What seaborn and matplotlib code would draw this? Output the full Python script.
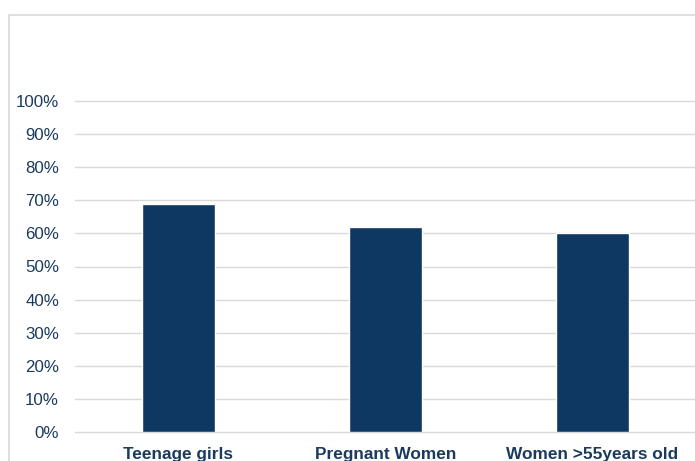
import matplotlib
matplotlib.use("Agg")
import matplotlib.pyplot as plt
import matplotlib.patches as patches
from matplotlib.ticker import PercentFormatter
import seaborn as sns
import pandas as pd

# data
groups = ["Teenage girls", "Pregnant Women", "Women >55years old"]
shares = [0.69, 0.62, 0.60]

bar_color = "#0E3862"
text_color = "#1B3A5E"
grid_color = "#D9D9D9"

sns.set_style("white")
plt.rcParams["font.family"] = ["Liberation Sans", "DejaVu Sans"]

df = pd.DataFrame({"group": groups, "share": shares})

fig = plt.figure(figsize=(6.95, 4.61), dpi=100)
W, H = 695, 461

# outer chart border (cropped on the right/bottom in the reference)
fig.patches.append(patches.Rectangle((9 / W, -0.1), 1.2, (H - 15) / H + 0.1,
                                     transform=fig.transFigure, fill=False,
                                     edgecolor=grid_color, linewidth=1.2))

ax = fig.add_axes([75 / W, (H - 432) / H, 621 / W, 331 / H])
sns.barplot(data=df, x="group", y="share", color=bar_color, width=0.357,
            saturation=1, ax=ax)

ax.set_ylim(0, 1.0)
ax.set_xlim(-0.5, 2.5)
ax.set_yticks([i / 10 for i in range(11)])
ax.yaxis.set_major_formatter(PercentFormatter(1.0, decimals=0))
ax.grid(axis="y", color=grid_color, linewidth=1)
ax.set_axisbelow(True)
for s in ax.spines.values():
    s.set_visible(False)
ax.set_xlabel("")
ax.set_ylabel("")
ax.tick_params(axis="y", length=0, pad=11.5, labelsize=12.2, labelcolor=text_color)
ax.tick_params(axis="x", length=0, pad=10.5, labelsize=12.4, labelcolor=text_color)
for lbl in ax.get_xticklabels():
    lbl.set_fontweight("bold")
for line in ax.get_ygridlines():
    line.set_clip_on(False)

fig.savefig("out.png", dpi=100)
